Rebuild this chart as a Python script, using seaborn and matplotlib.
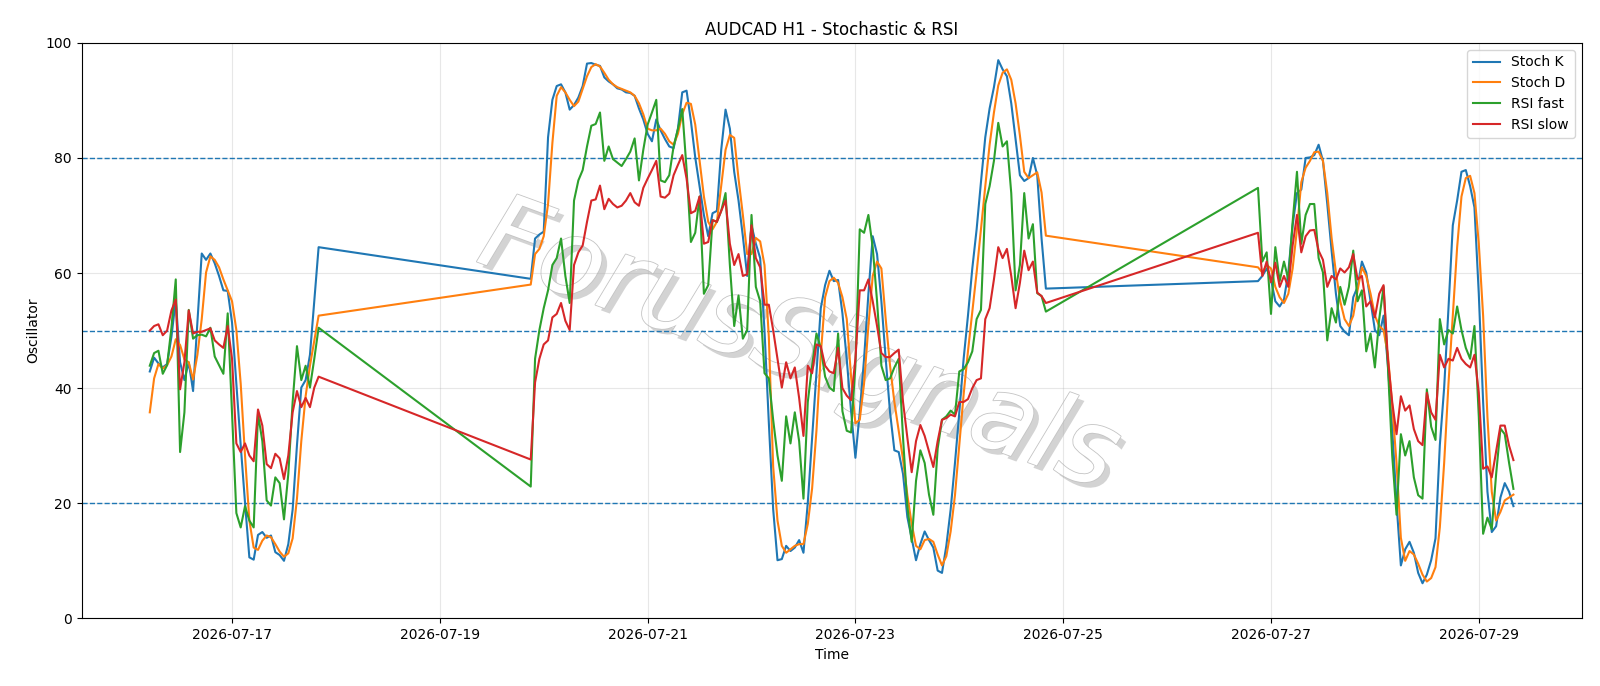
import numpy as np
import pandas as pd
import matplotlib
matplotlib.use("Agg")
import matplotlib.pyplot as plt
import matplotlib.dates as mdates
import matplotlib.patheffects as pe
import seaborn as sns

# ---- time segments (hourly bars, weekend gaps) ----
seg_ranges = [("2026-07-16 05:00", "2026-07-17 20:00"),
              ("2026-07-19 21:00", "2026-07-24 20:00"),
              ("2026-07-26 21:00", "2026-07-29 08:00")]

# ---- series values ----
stoch_k = [
    # segment 1
    42.9, 45.3, 44.3, 43.6, 44.2, 48.9, 55.4, 44.5, 41.4, 44.5,
    39.5, 51.4, 63.4, 62.3, 63.4, 61.7, 59.5, 57.0, 56.9, 51.4,
    40.8, 30.1, 20.1, 10.6, 10.2, 14.5, 15.0, 14.0, 14.4, 11.5,
    11.0, 10.0, 12.9, 18.9, 30.1, 40.1, 41.4, 45.8, 55.1, 64.5,
    # segment 2
    59.0, 66.0, 66.7, 67.2, 83.6, 90.1, 92.5, 92.8, 91.4, 88.4,
    89.2, 90.5, 92.5, 96.4, 96.5, 96.2, 96.0, 94.0, 93.3, 92.8,
    92.1, 91.9, 91.4, 91.3, 90.8, 88.6, 86.7, 84.2, 82.9, 86.7,
    84.8, 83.3, 82.0, 81.7, 85.1, 91.4, 91.7, 86.4, 80.1, 75.1,
    70.1, 66.4, 70.4, 70.8, 81.4, 88.4, 85.1, 77.6, 72.6, 66.4,
    59.5, 68.3, 65.1, 62.6, 50.0, 34.0, 19.0, 10.1, 10.3, 12.6,
    11.7, 12.3, 13.6, 11.4, 20.1, 31.4, 42.6, 53.9, 57.9, 60.4,
    58.6, 58.8, 53.0, 45.0, 36.0, 27.9, 35.8, 45.1, 56.4, 66.4,
    63.3, 55.1, 45.1, 35.8, 29.2, 28.9, 25.1, 17.6, 13.9, 10.1,
    12.9, 15.1, 13.6, 12.3, 8.3, 7.9, 12.6, 18.9, 27.0, 35.8,
    45.1, 52.6, 60.8, 67.6, 75.8, 83.6, 88.6, 92.3, 97.0, 95.4,
    94.2, 89.5, 83.3, 77.0, 76.0, 76.5, 80.0, 77.0, 66.0, 57.3,
    # segment 3
    58.6, 59.5, 60.8, 58.9, 55.1, 54.2, 55.4, 60.1, 68.3, 73.9,
    74.5, 80.0, 80.1, 80.5, 82.3, 79.5, 72.0, 63.9, 56.4, 50.8,
    49.8, 49.2, 55.8, 57.6, 62.0, 60.1, 55.1, 50.1, 49.2, 52.6,
    44.0, 33.0, 20.0, 9.2, 12.0, 13.3, 11.4, 7.9, 6.1, 7.6,
    10.1, 13.9, 30.1, 40.1, 53.9, 68.3, 72.6, 77.6, 77.9, 75.1,
    71.4, 56.4, 37.6, 22.0, 15.0, 16.0, 21.0, 23.5, 22.0, 19.5,
]

stoch_d = [
    35.8, 41.7, 44.2, 43.4, 44.0, 45.5, 48.5, 47.5, 45.0, 44.5,
    41.5, 45.8, 52.0, 60.1, 62.9, 62.3, 61.0, 58.9, 57.0, 55.1,
    50.1, 40.8, 28.3, 17.0, 12.3, 11.9, 13.5, 14.4, 14.1, 12.9,
    11.6, 10.7, 11.3, 13.9, 20.8, 30.8, 38.6, 43.9, 48.3, 52.6,
    58.0, 63.3, 64.2, 66.4, 72.0, 82.6, 90.8, 92.3, 91.4, 90.1,
    89.0, 89.8, 92.0, 94.2, 95.8, 96.3, 95.9, 94.8, 93.6, 92.8,
    92.3, 92.0, 91.7, 91.4, 90.8, 89.5, 87.6, 85.1, 84.8, 84.8,
    85.1, 84.2, 82.9, 82.3, 84.2, 87.6, 89.6, 89.4, 85.8, 79.5,
    73.3, 68.9, 67.6, 68.9, 75.1, 81.4, 84.0, 83.5, 76.4, 70.1,
    63.3, 63.3, 66.1, 65.5, 61.4, 48.9, 26.4, 17.0, 12.6, 11.4,
    12.0, 12.6, 12.9, 12.9, 16.4, 22.6, 32.6, 45.8, 55.8, 58.6,
    59.2, 58.3, 55.8, 52.0, 42.0, 33.9, 34.5, 40.8, 50.8, 59.5,
    62.0, 60.8, 52.0, 43.9, 37.6, 32.6, 27.6, 21.4, 16.4, 12.6,
    12.0, 13.6, 13.8, 13.3, 11.1, 9.2, 10.8, 15.1, 21.4, 30.1,
    38.9, 46.4, 53.3, 60.1, 67.6, 75.1, 82.3, 87.9, 92.6, 94.8,
    95.4, 93.6, 89.5, 83.9, 77.6, 76.5, 77.0, 77.5, 74.0, 66.5,
    61.0, 60.1, 61.4, 60.8, 57.6, 55.8, 54.8, 56.4, 60.8, 67.6,
    75.8, 78.3, 79.5, 81.0, 81.1, 79.5, 73.9, 66.1, 60.1, 55.1,
    52.0, 50.8, 52.6, 57.0, 61.0, 59.5, 56.4, 52.6, 50.8, 50.1,
    45.8, 37.0, 27.0, 14.0, 10.0, 11.7, 11.1, 9.5, 7.6, 6.4,
    7.0, 8.9, 15.8, 27.0, 40.8, 52.6, 64.5, 73.3, 76.5, 76.9,
    73.9, 65.1, 52.6, 35.0, 22.0, 17.0, 18.5, 20.5, 21.0, 21.5,
]

rsi_fast = [
    43.9, 46.1, 46.5, 42.5, 44.0, 50.5, 58.9, 28.9, 35.8, 53.6,
    48.6, 49.2, 49.3, 49.0, 50.5, 45.5, 44.0, 42.5, 53.0, 35.7,
    18.3, 15.8, 19.5, 17.0, 15.8, 35.5, 30.8, 20.5, 19.6, 24.5,
    23.5, 17.2, 25.1, 37.6, 47.3, 41.4, 43.9, 40.1, 45.1, 50.5,
    22.9, 45.1, 50.1, 53.9, 57.0, 61.4, 62.6, 66.0, 59.5, 54.8,
    72.6, 76.1, 77.9, 82.0, 85.6, 85.9, 87.9, 79.5, 82.0, 79.8,
    79.2, 78.6, 79.8, 81.1, 83.4, 76.1, 81.4, 85.8, 87.9, 90.1,
    76.1, 75.8, 77.0, 82.0, 85.0, 88.5, 78.0, 65.4, 67.0, 73.3,
    56.4, 57.9, 69.2, 68.9, 70.8, 73.9, 61.4, 50.8, 56.1, 48.6,
    50.1, 70.1, 57.6, 55.1, 42.6, 41.7, 34.5, 28.3, 23.9, 35.1,
    30.4, 35.8, 30.8, 20.8, 37.6, 43.9, 49.5, 47.0, 42.0, 40.1,
    39.5, 49.5, 36.0, 32.6, 32.3, 43.9, 67.6, 67.0, 70.1, 64.5,
    55.1, 43.9, 41.4, 41.7, 43.6, 45.1, 31.4, 19.5, 13.3, 23.9,
    29.2, 27.0, 21.5, 18.0, 29.5, 34.5, 35.1, 36.1, 35.4, 42.9,
    43.3, 44.5, 46.4, 52.0, 53.6, 72.0, 75.1, 79.5, 86.1, 82.0,
    82.9, 73.9, 57.0, 61.4, 73.9, 66.0, 68.5, 56.5, 56.0, 53.3,
    74.8, 62.0, 63.6, 52.9, 64.5, 58.6, 62.0, 58.9, 68.9, 77.6,
    65.1, 70.1, 72.0, 72.0, 62.6, 60.1, 48.3, 53.9, 51.4, 57.6,
    54.5, 57.6, 63.9, 55.1, 57.0, 46.4, 49.5, 43.6, 52.0, 57.6,
    43.9, 28.3, 18.0, 32.0, 28.3, 30.8, 24.5, 21.4, 20.8, 39.8,
    33.3, 31.0, 52.0, 47.6, 50.1, 49.5, 54.2, 50.1, 47.0, 45.1,
    50.8, 35.1, 14.7, 17.5, 15.5, 25.0, 33.0, 32.0, 27.0, 22.5,
]

rsi_slow = [
    50.0, 50.8, 51.1, 49.2, 50.0, 53.5, 55.4, 39.8, 44.5, 53.5,
    49.5, 49.8, 49.8, 50.1, 50.4, 48.3, 47.6, 47.0, 50.8, 45.1,
    30.4, 28.9, 30.4, 28.3, 27.3, 36.3, 33.5, 26.8, 26.1, 28.6,
    27.8, 24.2, 28.3, 35.8, 39.5, 36.7, 38.3, 36.7, 40.1, 42.0,
    27.6, 41.0, 45.1, 47.6, 48.3, 52.3, 52.9, 54.8, 51.7, 50.1,
    61.4, 63.6, 64.8, 68.9, 72.6, 72.8, 75.2, 71.1, 72.9, 72.0,
    71.4, 71.7, 72.6, 73.9, 72.3, 71.7, 74.8, 76.4, 77.9, 79.5,
    73.3, 73.1, 73.8, 77.0, 78.8, 80.5, 76.4, 70.4, 70.8, 73.3,
    65.1, 65.4, 69.2, 68.9, 70.8, 72.6, 65.1, 61.4, 63.3, 59.5,
    59.8, 68.3, 62.6, 61.0, 54.5, 54.5, 50.1, 45.1, 40.1, 44.5,
    41.7, 43.6, 38.3, 31.7, 43.9, 42.6, 47.6, 47.3, 43.9, 42.9,
    42.6, 47.0, 40.0, 38.7, 37.9, 45.1, 57.0, 57.0, 58.9, 55.1,
    50.8, 46.1, 45.4, 45.4, 46.1, 46.7, 37.6, 31.4, 25.4, 30.8,
    33.6, 31.7, 29.0, 26.3, 30.8, 34.5, 34.8, 35.4, 35.1, 37.6,
    37.6, 38.1, 40.0, 41.4, 41.7, 52.0, 53.9, 58.9, 64.5, 62.6,
    64.2, 59.5, 53.9, 58.3, 63.9, 60.5, 62.0, 56.6, 56.0, 54.8,
    67.0, 59.5, 62.0, 58.4, 61.8, 57.6, 59.5, 57.6, 64.8, 70.1,
    63.6, 66.4, 67.4, 67.5, 63.9, 62.3, 57.6, 59.5, 58.9, 60.8,
    60.1, 61.0, 63.3, 58.9, 59.5, 54.2, 55.1, 52.3, 56.4, 57.9,
    45.1, 37.6, 32.0, 38.6, 36.1, 37.0, 32.9, 30.8, 30.1, 39.2,
    35.8, 34.5, 45.8, 43.6, 45.1, 44.8, 47.0, 45.1, 44.2, 43.6,
    45.8, 39.2, 26.0, 26.4, 24.5, 29.0, 33.5, 33.5, 30.0, 27.5,
]

series_names = ["Stoch K", "Stoch D", "RSI fast", "RSI slow"]
levels = [80, 50, 20]

# ---- build timestamps ----
times = pd.DatetimeIndex(np.concatenate(
    [pd.date_range(a, b, freq="h").values for a, b in seg_ranges]))

series = [stoch_k, stoch_d, rsi_fast, rsi_slow]
colors = ["#1f77b4", "#ff7f0e", "#2ca02c", "#d62728"]

fig = plt.figure(figsize=(16, 6.86), dpi=100)
ax = fig.add_axes([0.051, 0.0986, 0.9375, 0.8389])

for name, vals, c in zip(series_names, series, colors):
    sns.lineplot(x=times, y=np.array(vals), ax=ax, label=name,
                 color=c, linewidth=1.5, zorder=3)

for lv in levels:
    ax.axhline(lv, color="#1f77b4", linestyle="--", linewidth=1.0, zorder=2)

ax.set_ylim(0, 100)
ax.margins(x=0.05)
ax.grid(True, color="#b0b0b0", alpha=0.3, linewidth=0.8)
ax.xaxis.set_major_locator(mdates.DayLocator(bymonthday=range(1, 32, 2)))
ax.xaxis.set_major_formatter(mdates.DateFormatter("%Y-%m-%d"))
ax.tick_params(labelsize=10)
ax.set_title("AUDCAD H1 - Stochastic & RSI", fontsize=12)
ax.set_xlabel("Time", fontsize=10)
ax.set_ylabel("Oscillator", fontsize=10)
ax.legend(loc="upper right", fontsize=10)

# watermark
ax.text(0.478, 0.47, "ForusSignals", transform=ax.transAxes,
        rotation=-20, fontsize=76, fontstyle="italic", color="white",
        ha="center", va="center", zorder=1,
        path_effects=[pe.SimplePatchShadow(offset=(4, -4), shadow_rgbFace="#b0b0b0", alpha=0.55),
                      pe.Stroke(linewidth=1.2, foreground="#c4c4c4"),
                      pe.Normal()])

fig.savefig("out.png", dpi=100)
